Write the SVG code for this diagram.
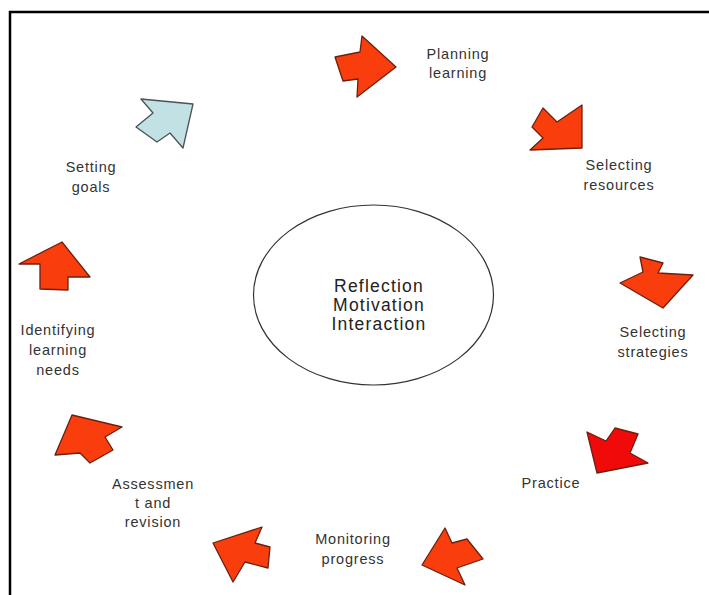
<svg xmlns="http://www.w3.org/2000/svg" width="709" height="595" viewBox="0 0 709 595">
<style>
.arr{fill:#f93d0c;stroke:#6b2010;stroke-width:1.3;stroke-linejoin:round}
.red{fill:#f00a0a}
.blue{fill:#c2e1e4;stroke:#4a5256}
.lbl{font-family:"Liberation Sans",Arial,sans-serif;font-size:14.5px;letter-spacing:0.8px;fill:#333;text-anchor:middle}
.ctr{font-family:"Liberation Sans",Arial,sans-serif;font-size:17.5px;letter-spacing:1.2px;fill:#222;text-anchor:middle}
</style>
<rect width="709" height="595" fill="#fff"/>
<g id="frame" stroke="#000" stroke-width="2.5" fill="none">
<path d="M10,595 V12 H709"/>
</g>
<g id="center">
<ellipse cx="373.5" cy="295" rx="120" ry="90" fill="#fff" stroke="#333" stroke-width="1.2"/>
<text class="ctr" x="379" y="292">Reflection</text>
<text class="ctr" x="379" y="311">Motivation</text>
<text class="ctr" x="379" y="330">Interaction</text>
</g>
<g id="connectors">
<polygon id="a-planning" class="arr" points="335,57 360,52 362,36 396,67 357,97 358,79 343,81"/>
<polygon id="a-resources" class="arr" points="543,108 557,122 582,105 582,148 530,150 543,138 532,127"/>
<polygon id="a-strategies" class="arr" points="640,257 663,263 658,273 693,275 663,308 620,283 643,272"/>
<polygon id="a-practice" class="arr red" points="587,432 606,441 615,428 638,434 630,453 648,463 597,473"/>
<polygon id="a-monitoring" class="arr" points="445,528 452,543 467,539 483,559 457,568 465,585 422,565"/>
<polygon id="a-assessment" class="arr" points="213,543 262,527 255,543 270,547 268,568 245,562 233,582"/>
<polygon id="a-identifying" class="arr" points="72,415 122,427 105,437 113,450 90,463 80,453 55,455"/>
<polygon id="a-goals" class="arr" points="62,242 90,277 68,277 68,290 40,289 40,264 19,264"/>
<polygon id="a-setting" class="arr blue" points="141,99 193,104 183,148 170,133 157,142 136,127 153,113"/>
</g>
<g id="n-planning"><text class="lbl" x="458" y="59">Planning</text><text class="lbl" x="458" y="78">learning</text></g>
<g id="n-goals"><text class="lbl" x="91" y="172">Setting</text><text class="lbl" x="91" y="192">goals</text></g>
<g id="n-resources"><text class="lbl" x="619" y="170">Selecting</text><text class="lbl" x="619" y="190">resources</text></g>
<g id="n-strategies"><text class="lbl" x="653" y="337">Selecting</text><text class="lbl" x="653" y="357">strategies</text></g>
<g id="n-practice"><text class="lbl" x="551" y="488">Practice</text></g>
<g id="n-monitoring"><text class="lbl" x="353" y="544">Monitoring</text><text class="lbl" x="353" y="564">progress</text></g>
<g id="n-assessment"><text class="lbl" x="153" y="489">Assessmen</text><text class="lbl" x="153" y="508">t and</text><text class="lbl" x="153" y="527">revision</text></g>
<g id="n-identifying"><text class="lbl" x="58" y="335">Identifying</text><text class="lbl" x="58" y="355">learning</text><text class="lbl" x="58" y="375">needs</text></g>
</svg>
